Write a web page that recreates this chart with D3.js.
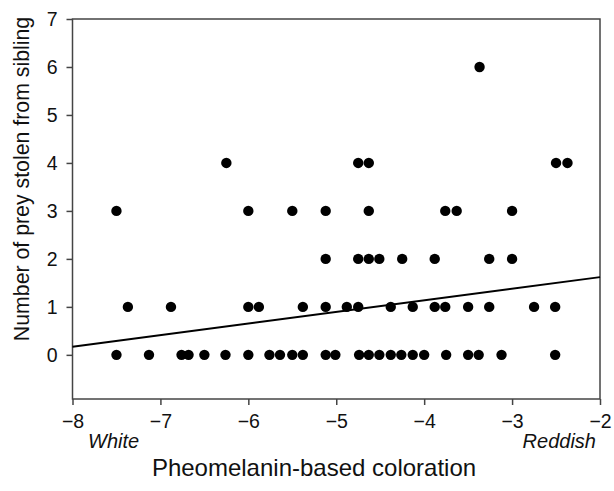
<!DOCTYPE html>
<html><head><meta charset="utf-8">
<script src="https://cdn.jsdelivr.net/npm/d3@7"></script>
<style>body{margin:0;background:#fff}text{font-family:Arial,"Liberation Sans",sans-serif;fill:#111}</style>
</head><body><svg id="c" width="614" height="491"></svg>
<script>
const xs0 = [-7.50,-7.13,-6.76,-6.68,-6.50,-6.26,-6.00,-5.76,-5.64,-5.50,-5.38,-5.12,-5.01,-4.74,-4.63,-4.51,-4.38,-4.26,-4.13,-4.00,-3.75,-3.50,-3.38,-3.12,-2.51];
const xs1 = [-7.37,-6.88,-6.00,-5.88,-5.38,-5.12,-4.88,-4.75,-4.38,-4.13,-3.88,-3.76,-3.50,-3.26,-2.75,-2.51];
const xs2 = [-5.12,-4.75,-4.63,-4.51,-4.25,-3.88,-3.26,-3.00];
const xs3 = [-7.50,-6.00,-5.50,-5.12,-4.63,-3.76,-3.63,-3.00];
const xs4 = [-6.25,-4.75,-4.63,-2.50,-2.37];
const xs6 = [-3.37];
const preyCounts = [0,1,2,3,4,6];
const fitX = [-8,-2];
const fitY = [0.17,1.62];
const xTicks = [-8,-7,-6,-5,-4,-3,-2];
const yTicks = [0,1,2,3,4,5,6,7];
const xTitle = "Pheomelanin-based coloration";
const yTitle = "Number of prey stolen from sibling";
const endLabels = ["White","Reddish"];

const groups = [xs0,xs1,xs2,xs3,xs4,xs6];
const points = [];
groups.forEach((g,i)=>g.forEach(v=>points.push({x:v,y:preyCounts[i]})));

const svg = d3.select("#c");
const L=72.5,R=600,T=19,B=399;
const x = d3.scaleLinear().domain([-8,-2]).range([L,R]);
const y = d3.scaleLinear().domain([-0.92,7]).range([B,T]);
const axisColor="#444";

svg.append("rect").attr("x",L).attr("y",T).attr("width",R-L).attr("height",B-T)
  .attr("fill","none").attr("stroke",axisColor).attr("stroke-width",1.5);

const fmt = d => d<0 ? "\u2212"+Math.abs(d) : String(d);
const gx = svg.append("g").attr("transform",`translate(0,${B})`)
  .call(d3.axisBottom(x).tickValues(xTicks).tickSize(6).tickPadding(9).tickFormat(fmt));
const gy = svg.append("g").attr("transform",`translate(${L},0)`)
  .call(d3.axisLeft(y).tickValues(yTicks).tickSize(6).tickPadding(9).tickFormat(fmt));
[gx,gy].forEach(g=>{
  g.select(".domain").remove();
  g.selectAll("line").attr("stroke",axisColor).attr("stroke-width",1.5);
  g.selectAll("text").attr("font-size",19.5).attr("font-family","Arial, 'Liberation Sans', sans-serif").attr("fill","#111");
});

svg.append("line").attr("x1",x(fitX[0])).attr("y1",y(fitY[0])).attr("x2",x(fitX[1])).attr("y2",y(fitY[1]))
  .attr("stroke","#000").attr("stroke-width",2);

svg.append("g").selectAll("circle").data(points).join("circle")
  .attr("cx",d=>x(d.x)).attr("cy",d=>y(d.y)).attr("r",5.2).attr("fill","#000");

svg.append("text").attr("x",88).attr("y",448).attr("font-size",20).attr("font-style","italic").text(endLabels[0]);
svg.append("text").attr("x",596).attr("y",448).attr("font-size",20).attr("font-style","italic").attr("text-anchor","end").text(endLabels[1]);
svg.append("text").attr("x",314).attr("y",476).attr("font-size",24).attr("text-anchor","middle").text(xTitle);
svg.append("text").attr("transform","translate(29,179) rotate(-90)").attr("font-size",21.3).attr("text-anchor","middle").text(yTitle);
</script></body></html>
